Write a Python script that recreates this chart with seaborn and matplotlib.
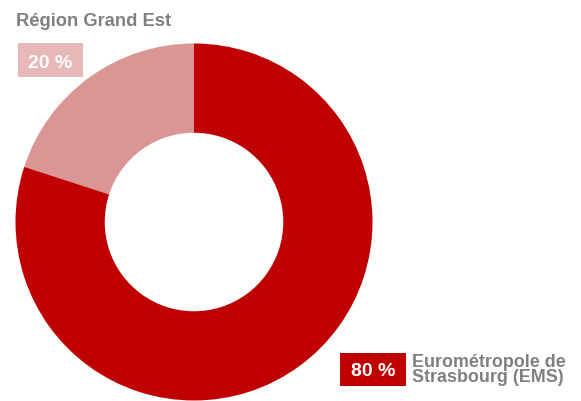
import matplotlib
matplotlib.use('Agg')
import matplotlib.pyplot as plt
from matplotlib.patches import Rectangle
import seaborn as sns

categories = ['Région Grand Est', 'Eurométropole de\nStrasbourg (EMS)']
values = [20, 80]
colors = ['#D99694', '#C00000']
box_colors = ['#E6B9B8', '#C00000']

sns.set_style('white')
plt.rcParams['font.family'] = ['Liberation Sans', 'DejaVu Sans']

W, H = 581, 401
fig = plt.figure(figsize=(W / 100, H / 100), dpi=100)

# donut: centre (194, 222) px, outer radius ~178.5 px
ax = fig.add_axes([15.5 / W, 0.5 / H, 357 / W, 357 / H])
ax.pie(values, colors=colors, startangle=90, counterclock=True,
       wedgeprops=dict(width=0.5, linewidth=0))
ax.set_xlim(-1, 1)
ax.set_ylim(-1, 1)
ax.axis('off')

grey = '#808080'


def px(x, y):
    return x / W, 1 - y / H


def box(x0, y0, x1, y1, color):
    fig.patches.append(Rectangle((x0 / W, 1 - y1 / H), (x1 - x0) / W, (y1 - y0) / H,
                                 transform=fig.transFigure, fc=color, ec='none'))


# title label, top left
fig.text(*px(16.5, 26), categories[0], color=grey, fontsize=13.2,
         fontweight='bold', va='baseline', ha='left')

box(18, 43, 83, 77, box_colors[0])
fig.text(*px(50, 68.3), f'{values[0]} %', color='white', fontsize=14,
         fontweight='bold', va='baseline', ha='center')

box(340, 353, 405.5, 385.5, box_colors[1])
fig.text(*px(372.8, 376.3), f'{values[1]} %', color='white', fontsize=14,
         fontweight='bold', va='baseline', ha='center')

for line, base in zip(categories[1].split('\n'), [366.7, 382.3]):
    fig.text(*px(412.5, base), line, color=grey, fontsize=12.9,
             fontweight='bold', va='baseline', ha='left')

fig.savefig('out.png', dpi=100)
